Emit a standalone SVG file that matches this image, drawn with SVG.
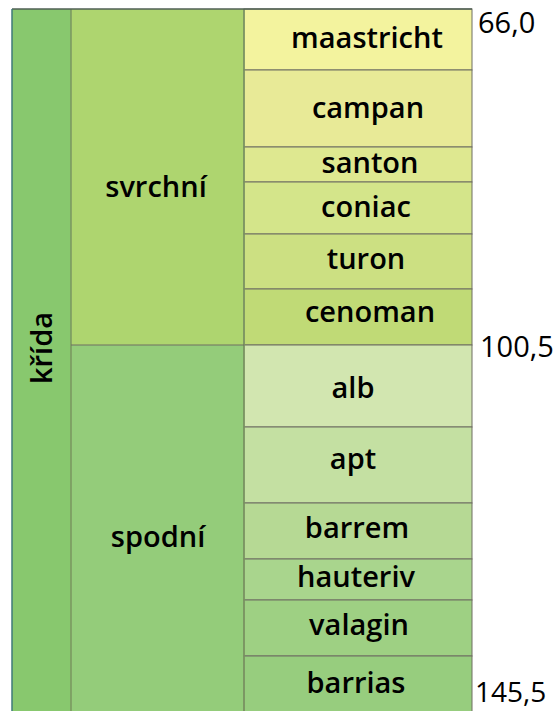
<svg xmlns="http://www.w3.org/2000/svg" width="554" height="711" viewBox="0 0 554 711">
<style>
text{font-family:"Open Sans","Liberation Sans",sans-serif;fill:#000}
.lbl{font-size:29px;font-weight:600;text-anchor:middle}
.num{font-size:29px;font-weight:400}
.st{stroke:#6e6e62;stroke-width:1}
.col{stroke:#7a9660;stroke-width:1.5}
</style>
<rect width="554" height="711" fill="#fff"/>
<g id="krida">
<rect x="12" y="9" width="59" height="702" fill="#88c86e"/>
<text class="lbl" transform="translate(52,348) rotate(-90)">křída</text>
</g>
<g id="svrchni">
<rect x="71" y="9" width="173" height="336" fill="#aed56f"/>
<text class="lbl" x="156" y="197">svrchní</text>
</g>
<g id="spodni">
<rect x="71" y="345" width="173" height="366" fill="#94cc7a"/>
<text class="lbl" x="158" y="547">spodní</text>
</g>
<g id="maastricht"><rect class="st" x="244" y="9" width="228" height="61" fill="#f3f39e"/><text class="lbl" x="367" y="48">maastricht</text></g>
<g id="campan"><rect class="st" x="244" y="70" width="228" height="77" fill="#e8ea97"/><text class="lbl" x="368" y="118">campan</text></g>
<g id="santon"><rect class="st" x="244" y="147" width="228" height="35" fill="#dee890"/><text class="lbl" x="370" y="173">santon</text></g>
<g id="coniac"><rect class="st" x="244" y="182" width="228" height="52" fill="#d4e58a"/><text class="lbl" x="366" y="217">coniac</text></g>
<g id="turon"><rect class="st" x="244" y="234" width="228" height="55" fill="#cce082"/><text class="lbl" x="366" y="269">turon</text></g>
<g id="cenoman"><rect class="st" x="244" y="289" width="228" height="56" fill="#c0da76"/><text class="lbl" x="370" y="322">cenoman</text></g>
<g id="alb"><rect class="st" x="244" y="345" width="228" height="82" fill="#d2e6b0"/><text class="lbl" x="353" y="398">alb</text></g>
<g id="apt"><rect class="st" x="244" y="427" width="228" height="76" fill="#c4e0a2"/><text class="lbl" x="353" y="469">apt</text></g>
<g id="barrem"><rect class="st" x="244" y="503" width="228" height="56" fill="#b6d994"/><text class="lbl" x="357" y="538">barrem</text></g>
<g id="hauteriv"><rect class="st" x="244" y="559" width="228" height="41" fill="#a9d58d"/><text class="lbl" x="356" y="587">hauteriv</text></g>
<g id="valagin"><rect class="st" x="244" y="600" width="228" height="56" fill="#9ed083"/><text class="lbl" x="359" y="635">valagin</text></g>
<g id="barrias"><rect class="st" x="244" y="656" width="228" height="56" fill="#97cd7e"/><text class="lbl" x="356" y="693">barrias</text></g>
<g id="lines">
<line class="col" x1="71" y1="9" x2="71" y2="711"/>
<line class="col" x1="244" y1="9" x2="244" y2="711"/>
<line class="st" x1="71" y1="345" x2="244" y2="345"/>
<line x1="12" y1="9" x2="472" y2="9" stroke="#4f5f55" stroke-width="1.5"/>
<line x1="12" y1="9" x2="12" y2="711" stroke="#3f7a7a" stroke-width="1.5"/>
</g>
<g id="ages">
<text class="num" x="478" y="33">66,0</text>
<text class="num" x="480" y="357">100,5</text>
<text class="num" x="475" y="702" style="font-size:28px">145,5</text>
</g>
</svg>
